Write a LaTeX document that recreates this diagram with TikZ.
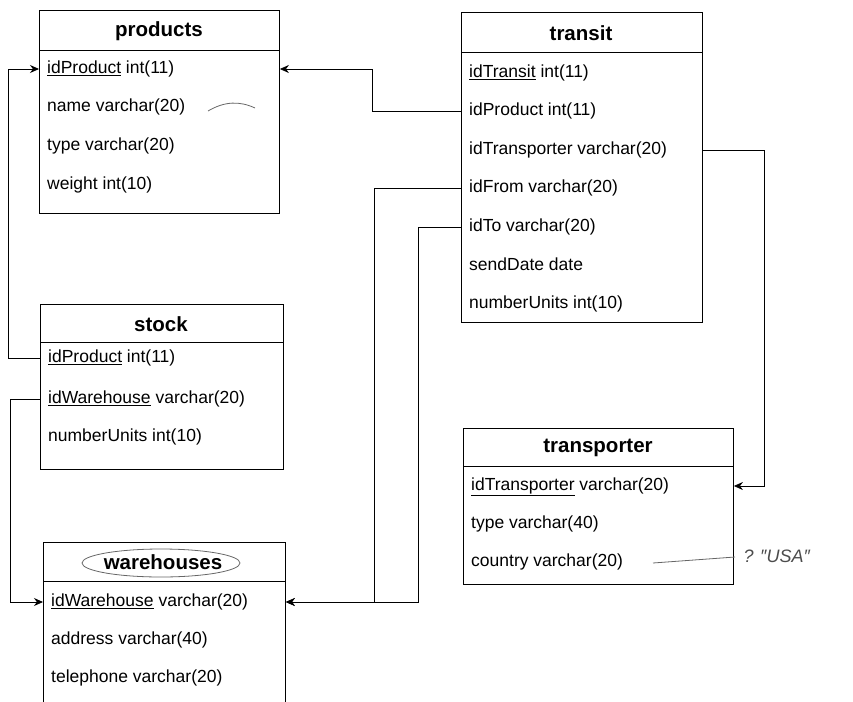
\documentclass[tikz,border=0pt]{standalone}
\usepackage{fontspec}
\setmainfont{Liberation Sans}
\usetikzlibrary{arrows.meta}

\tikzset{
  tbl/.style={draw, line width=0.9pt, inner sep=0pt, anchor=north west},
  ttl/.style={font=\fontsize{20.5}{20.5}\selectfont\bfseries},
  fld/.style={anchor=west, inner sep=8pt, text height=13pt, text depth=4pt, font=\fontsize{17.5}{18}\selectfont},
  fk/.style={line width=0.8pt, -{Stealth[length=9pt,width=8pt]}},
  pen/.style={black!60, line width=0.8pt}
}

\begin{document}
\begin{tikzpicture}[x=1pt, y=-1pt]
            \useasboundingbox (0,0) rectangle (853,701);

            % products
            \node (prd) at (39,10) [tbl, minimum width=240pt, minimum height=203pt] {};
            \node (prd-t) at (159,31) [ttl] {products};
            \draw[line width=0.9pt] (39,50) -- (279,50);
            \node (prd-id) at (39,69) [fld] {\underline{idProduct} int(11)};
            \node (prd-nm) at (39,107) [fld] {name varchar(20)};
            \node (prd-ty) at (39,146) [fld] {type varchar(20)};
            \node (prd-wt) at (39,185) [fld] {weight int(10)};

            % transit
            \node (trn) at (461,12) [tbl, minimum width=241pt, minimum height=310pt] {};
            \node (trn-t) at (581,33) [ttl] {transit};
            \draw[line width=0.9pt] (461,52) -- (702,52);
            \node (trn-id) at (461,73) [fld] {\underline{idTransit} int(11)};
            \node (trn-prd) at (461,111) [fld] {idProduct int(11)};
            \node (trn-tsp) at (461,150) [fld] {idTransporter varchar(20)};
            \node (trn-from) at (461,188) [fld] {idFrom varchar(20)};
            \node (trn-to) at (461,227) [fld] {idTo varchar(20)};
            \node (trn-dt) at (461,266) [fld] {sendDate date};
            \node (trn-nu) at (461,304) [fld] {numberUnits int(10)};

            % stock
            \node (stk) at (40,304) [tbl, minimum width=243pt, minimum height=165pt] {};
            \node (stk-t) at (161,324) [ttl] {stock};
            \draw[line width=0.9pt] (40,342) -- (283,342);
            \node (stk-prd) at (40,358) [fld] {\underline{idProduct} int(11)};
            \node (stk-wh) at (40,399) [fld] {\underline{idWarehouse} varchar(20)};
            \node (stk-nu) at (40,437) [fld] {numberUnits int(10)};

            % warehouses
            \node (wh) at (43,542) [tbl, minimum width=242pt, minimum height=180pt] {};
            \node (wh-t) at (163,562) [ttl] {warehouses};
            \draw[line width=0.9pt] (43,581) -- (285,581);
            \node (wh-id) at (43,602) [fld] {\underline{idWarehouse} varchar(20)};
            \node (wh-ad) at (43,640) [fld] {address varchar(40)};
            \node (wh-tel) at (43,678) [fld] {telephone varchar(20)};

            % transporter
            \node (tsp) at (463,428) [tbl, minimum width=270pt, minimum height=156pt] {};
            \node (tsp-t) at (598,448) [ttl] {transporter};
            \draw[line width=0.9pt] (463,466) -- (733,466);
            \node (tsp-id) at (463,486) [fld] {\underline{idTransporter} varchar(20)};
            \node (tsp-ty) at (463,524) [fld] {type varchar(40)};
            \node (tsp-co) at (463,562) [fld] {country varchar(20)};

            % keys
            \draw[fk] (trn-prd.west) -- ++(-89,0) |- (prd.east |- prd-id);
            \draw[fk] (stk-prd.west) -- ++(-32,0) |- (prd-id.west);
            \draw[fk] (stk-wh.west) -- ++(-30,0) |- (wh-id.west);
            \draw[fk] (trn-from.west) -- ++(-87,0) |- (wh.east |- wh-id);
            \draw[fk] (trn-to.west) -- ++(-43,0) |- (wh.east |- wh-id);
            \draw[fk] (trn.east |- trn-tsp) -- ++(61,0) |- (tsp.east |- tsp-id);

            % pencil notes
            \draw[pen] (208,111) .. controls (225,101) and (240,101) .. (255,108);
            \draw[pen] (161,563) ellipse [x radius=79, y radius=14];
            \draw[pen] (653,563) -- (735,557);
            \node (usa) at (740,556) [anchor=west, black!70, font=\itshape\fontsize{18}{18}\selectfont] {? ″USA″};
        \end{tikzpicture}
\end{document}
